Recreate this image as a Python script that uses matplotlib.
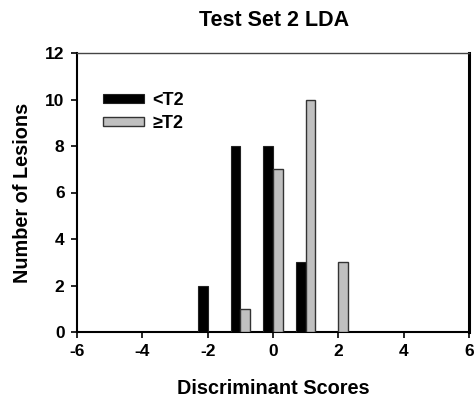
import matplotlib
matplotlib.use("Agg")
import matplotlib.pyplot as plt
import numpy as np

plt.rcParams['font.family'] = ['Liberation Sans', 'DejaVu Sans']
plt.rcParams['font.weight'] = 'bold'
plt.rcParams['axes.unicode_minus'] = False

scores_lt = [-2, -1, 0, 1]
counts_lt = [2, 8, 8, 3]
scores_ge = [-1, 0, 1, 2]
counts_ge = [1, 7, 10, 3]
xticks = [-6, -4, -2, 0, 2, 4, 6]
yticks = [0, 2, 4, 6, 8, 10, 12]

fig = plt.figure(figsize=(4.76, 4.03), dpi=100)
ax = fig.add_axes([77/476, 1-332/403, (469-77)/476, (332-53)/403])

w = 0.3
ax.bar(np.array(scores_lt), counts_lt, width=-w, align='edge', color='black',
       edgecolor='#222222', linewidth=0.8, label='<T2', zorder=3)
ax.bar(np.array(scores_ge), counts_ge, width=w, align='edge', color='#c0c0c0',
       edgecolor='#333333', linewidth=1.0, label='≥T2', zorder=3)

ax.set_xlim(-6, 6)
ax.set_ylim(0, 12)
ax.set_xticks(xticks)
ax.set_yticks(yticks)
ax.tick_params(direction='out', length=4, width=1.2, labelsize=12.5, pad=5)
for lab in ax.get_xticklabels() + ax.get_yticklabels():
    lab.set_fontweight('bold')

for s in ['left', 'bottom']:
    ax.spines[s].set_linewidth(1.5)
    ax.spines[s].set_color('black')
ax.spines['right'].set_linewidth(2.2)
ax.spines['right'].set_color('black')
ax.spines['top'].set_linewidth(1.0)
ax.spines['top'].set_color('#444444')

ax.set_xlabel('Discriminant Scores', fontsize=14.3, fontweight='bold', labelpad=14)
ax.set_ylabel('Number of Lesions', fontsize=14.3, fontweight='bold', labelpad=9)
fig.text(274/476, 1-20/403, 'Test Set 2 LDA', fontsize=15.5, fontweight='bold',
         ha='center', va='center')

leg = ax.legend(loc='upper left', bbox_to_anchor=(0.066, 0.86), frameon=False,
                fontsize=13, handlelength=2.3, handleheight=0.4,
                handletextpad=0.45, labelspacing=0.35, borderaxespad=0,
                borderpad=0)
for t in leg.get_texts():
    t.set_fontweight('bold')

fig.savefig('out.png', dpi=100)
